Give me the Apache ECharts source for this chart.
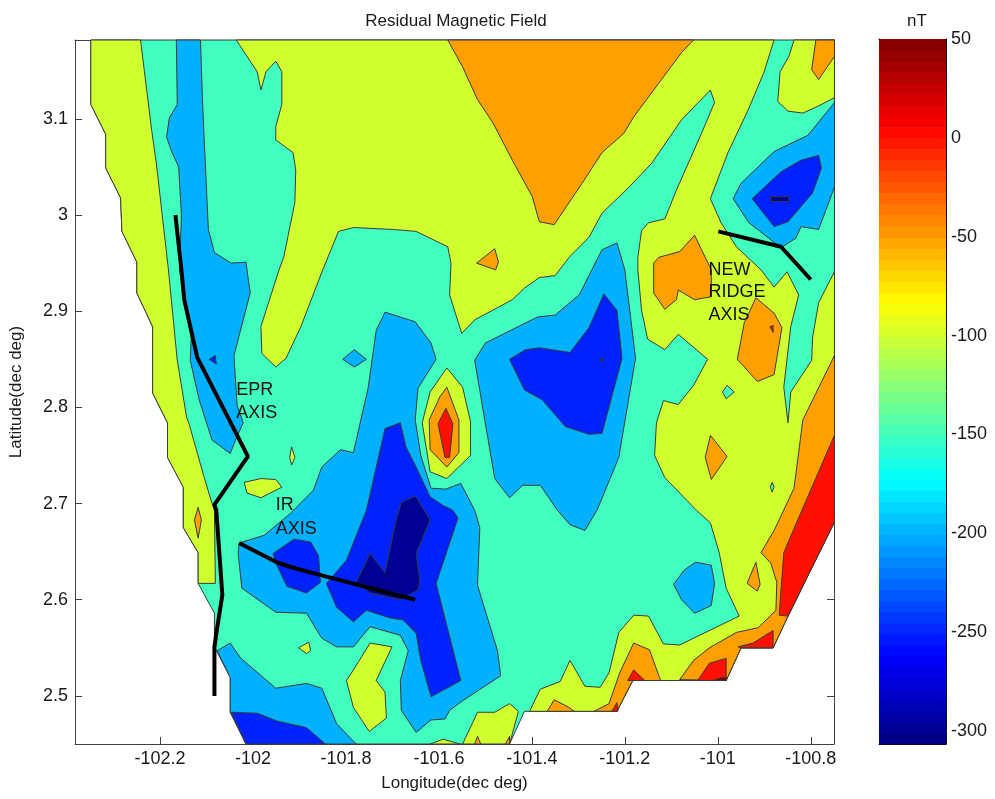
<!DOCTYPE html>
<html><head><meta charset="utf-8"><style>html,body{margin:0;padding:0;background:#fff}#c{width:995px;height:799px}</style>
<script src="https://cdn.jsdelivr.net/npm/echarts@6/dist/echarts.min.js"></script></head><body><div id="c"></div>
<script>
// ---- tick labels ----
const lonTicks = [-102.2,-102,-101.8,-101.6,-101.4,-101.2,-101,-100.8];
const latTicks = [2.5,2.6,2.7,2.8,2.9,3,3.1];
const nTTicks = [-300,-250,-200,-150,-100,-50,0,50];
// ---- contour regions, [lon, lat] ----
const domain = [[-102.349,3.182],[-102.349,3.115],[-102.317,3.084],[-102.317,3.049],[-102.285,3.018],[-102.282,2.983],[-102.250,2.951],[-102.250,2.919],[-102.216,2.884],[-102.216,2.815],[-102.184,2.784],[-102.184,2.748],[-102.150,2.717],[-102.150,2.675],[-102.118,2.649],[-102.118,2.617],[-102.083,2.586],[-102.083,2.551],[-102.049,2.519],[-102.049,2.483],[-102.015,2.450],[-101.448,2.450],[-101.416,2.484],[-101.217,2.484],[-101.183,2.516],[-100.982,2.516],[-100.950,2.550],[-100.881,2.550],[-100.849,2.583],[-100.749,2.681],[-100.749,3.182]];
const yellowLeft = [[-102.349,3.182],[-102.349,3.115],[-102.317,3.084],[-102.317,3.049],[-102.285,3.018],[-102.282,2.983],[-102.250,2.951],[-102.250,2.919],[-102.216,2.884],[-102.216,2.815],[-102.184,2.784],[-102.184,2.748],[-102.150,2.717],[-102.150,2.675],[-102.118,2.649],[-102.118,2.617],[-102.081,2.617],[-102.083,2.693],[-102.088,2.700],[-102.105,2.727],[-102.137,2.782],[-102.143,2.790],[-102.163,2.849],[-102.182,2.943],[-102.208,3.054],[-102.218,3.088],[-102.242,3.182]];
const orangeLeft = [[-102.118,2.696],[-102.126,2.683],[-102.118,2.664],[-102.111,2.683]];
const blueWest = [[-102.165,3.182],[-102.163,3.115],[-102.180,3.101],[-102.186,3.081],[-102.175,3.066],[-102.160,3.050],[-102.154,3.000],[-102.158,2.943],[-102.148,2.912],[-102.133,2.873],[-102.135,2.849],[-102.116,2.808],[-102.088,2.766],[-102.049,2.752],[-102.036,2.768],[-102.021,2.784],[-102.034,2.802],[-102.036,2.815],[-102.041,2.854],[-102.006,2.919],[-102.013,2.943],[-102.015,2.951],[-102.047,2.950],[-102.083,2.961],[-102.096,2.985],[-102.105,3.078],[-102.109,3.123],[-102.113,3.182]];
const deepDotWest = [[-102.094,2.850],[-102.081,2.854],[-102.079,2.845]];
const yellowMain = [[-102.036,3.182],[-101.991,3.149],[-101.983,3.130],[-101.972,3.149],[-101.951,3.160],[-101.938,3.149],[-101.938,3.115],[-101.951,3.092],[-101.951,3.078],[-101.914,3.065],[-101.908,3.047],[-101.910,3.013],[-101.934,2.956],[-101.944,2.943],[-101.983,2.884],[-101.981,2.856],[-101.951,2.842],[-101.929,2.851],[-101.897,2.884],[-101.850,2.943],[-101.816,2.983],[-101.784,2.987],[-101.698,2.985],[-101.649,2.983],[-101.581,2.967],[-101.574,2.950],[-101.577,2.917],[-101.551,2.877],[-101.523,2.891],[-101.442,2.912],[-101.416,2.924],[-101.384,2.935],[-101.350,2.937],[-101.320,2.956],[-101.277,2.977],[-101.249,3.002],[-101.191,3.029],[-101.142,3.054],[-101.078,3.099],[-101.016,3.130],[-101.007,3.117],[-101.035,3.085],[-101.089,3.026],[-101.114,2.996],[-101.149,2.992],[-101.164,2.984],[-101.172,2.956],[-101.172,2.943],[-101.164,2.901],[-101.151,2.871],[-101.114,2.860],[-101.085,2.876],[-101.022,2.850],[-101.052,2.823],[-101.085,2.803],[-101.117,2.807],[-101.132,2.784],[-101.136,2.750],[-101.114,2.727],[-101.074,2.707],[-101.046,2.693],[-101.016,2.680],[-100.997,2.649],[-100.982,2.612],[-100.954,2.583],[-101.082,2.553],[-101.117,2.554],[-101.149,2.583],[-101.181,2.584],[-101.213,2.566],[-101.234,2.524],[-101.253,2.509],[-101.286,2.510],[-101.318,2.537],[-101.339,2.515],[-101.382,2.507],[-101.405,2.484],[-101.217,2.484],[-101.183,2.516],[-100.982,2.516],[-100.950,2.550],[-100.881,2.550],[-100.849,2.583],[-100.749,2.681],[-100.749,2.941],[-100.783,2.909],[-100.796,2.873],[-100.798,2.849],[-100.843,2.816],[-100.849,2.784],[-100.858,2.821],[-100.843,2.884],[-100.826,2.917],[-100.851,2.941],[-100.879,2.925],[-100.907,2.943],[-100.960,2.967],[-100.993,2.992],[-101.016,3.017],[-100.978,3.065],[-100.935,3.109],[-100.901,3.148],[-100.879,3.182]];
const yellowNE = [[-100.836,3.182],[-100.847,3.165],[-100.866,3.149],[-100.871,3.118],[-100.849,3.108],[-100.817,3.106],[-100.785,3.113],[-100.749,3.122],[-100.749,3.182]];
const orangeNE = [[-100.789,3.182],[-100.798,3.151],[-100.783,3.141],[-100.749,3.165],[-100.749,3.182]];
const orangeTop = [[-101.581,3.182],[-101.549,3.154],[-101.517,3.120],[-101.484,3.096],[-101.442,3.057],[-101.399,3.019],[-101.384,2.993],[-101.352,2.990],[-101.292,3.033],[-101.249,3.065],[-101.202,3.085],[-101.181,3.102],[-101.121,3.141],[-101.078,3.169],[-101.052,3.182]];
const orangeSmallTop = [[-101.480,2.965],[-101.519,2.950],[-101.478,2.943],[-101.472,2.951]];
const blueNE = [[-100.749,3.117],[-100.806,3.083],[-100.879,3.066],[-100.950,3.033],[-100.967,3.017],[-100.933,2.992],[-100.864,2.966],[-100.832,2.976],[-100.821,2.988],[-100.783,2.985],[-100.749,3.029]];
const deepNE = [[-100.783,3.062],[-100.777,3.049],[-100.796,3.023],[-100.849,2.993],[-100.879,2.988],[-100.926,3.017],[-100.864,3.045],[-100.821,3.057]];
const navyNE = [[-100.886,3.019],[-100.847,3.019],[-100.847,3.014],[-100.886,3.014]];
const blueCentre = [[-101.217,2.971],[-101.200,2.943],[-101.177,2.851],[-101.213,2.748],[-101.260,2.693],[-101.286,2.672],[-101.318,2.678],[-101.345,2.693],[-101.382,2.719],[-101.420,2.719],[-101.448,2.706],[-101.480,2.726],[-101.523,2.849],[-101.500,2.867],[-101.388,2.894],[-101.350,2.896],[-101.298,2.917],[-101.271,2.943],[-101.249,2.964]];
const deepCentre = [[-101.245,2.918],[-101.217,2.901],[-101.206,2.851],[-101.249,2.773],[-101.277,2.772],[-101.328,2.780],[-101.378,2.808],[-101.416,2.818],[-101.448,2.850],[-101.414,2.860],[-101.384,2.862],[-101.318,2.857],[-101.277,2.883]];
const navyDotCentre = [[-101.253,2.851],[-101.245,2.851],[-101.249,2.847]];
const blueSouth = [[-101.716,2.899],[-101.651,2.889],[-101.617,2.867],[-101.606,2.850],[-101.645,2.820],[-101.651,2.787],[-101.639,2.750],[-101.617,2.716],[-101.585,2.715],[-101.553,2.721],[-101.523,2.693],[-101.512,2.675],[-101.517,2.615],[-101.474,2.547],[-101.467,2.521],[-101.549,2.495],[-101.577,2.485],[-101.587,2.476],[-101.617,2.475],[-101.649,2.462],[-101.681,2.485],[-101.683,2.516],[-101.666,2.547],[-101.683,2.563],[-101.748,2.572],[-101.784,2.551],[-101.820,2.551],[-101.852,2.560],[-101.885,2.586],[-101.951,2.587],[-102.024,2.612],[-102.032,2.648],[-102.030,2.659],[-101.976,2.667],[-101.919,2.690],[-101.870,2.714],[-101.852,2.738],[-101.812,2.756],[-101.784,2.753],[-101.752,2.821],[-101.735,2.880]];
const deepSouth = [[-101.683,2.784],[-101.716,2.778],[-101.756,2.693],[-101.799,2.641],[-101.831,2.623],[-101.842,2.617],[-101.820,2.592],[-101.784,2.577],[-101.756,2.589],[-101.705,2.581],[-101.677,2.579],[-101.649,2.565],[-101.639,2.537],[-101.617,2.499],[-101.553,2.516],[-101.606,2.617],[-101.559,2.685],[-101.570,2.693],[-101.591,2.698],[-101.619,2.707],[-101.649,2.738],[-101.671,2.759]];
const navySouth = [[-101.651,2.708],[-101.681,2.701],[-101.692,2.683],[-101.716,2.628],[-101.748,2.648],[-101.778,2.618],[-101.748,2.607],[-101.681,2.600],[-101.666,2.605],[-101.645,2.610],[-101.641,2.620],[-101.649,2.648],[-101.619,2.683]];
const deepIR = [[-101.912,2.663],[-101.876,2.660],[-101.859,2.646],[-101.855,2.618],[-101.885,2.607],[-101.927,2.614],[-101.949,2.636],[-101.957,2.648]];
const blueDiamond = [[-101.807,2.850],[-101.782,2.860],[-101.756,2.850],[-101.782,2.842]];
const yellowPatch = [[-102.019,2.722],[-101.983,2.726],[-101.951,2.725],[-101.938,2.717],[-101.983,2.706],[-102.013,2.711]];
const yellowSliver = [[-101.917,2.759],[-101.910,2.748],[-101.917,2.740],[-101.921,2.748]];
const yellowSpeck = [[-101.880,2.556],[-101.902,2.550],[-101.885,2.544],[-101.876,2.547]];
const blueSW = [[-102.077,2.547],[-102.049,2.555],[-102.026,2.539],[-101.951,2.508],[-101.885,2.513],[-101.852,2.508],[-101.820,2.471],[-101.778,2.450],[-102.015,2.450],[-102.049,2.483],[-102.049,2.519]];
const deepSW = [[-102.047,2.483],[-101.991,2.482],[-101.949,2.474],[-101.885,2.467],[-101.844,2.450],[-102.015,2.450]];
const yellowSouth1 = [[-101.748,2.555],[-101.701,2.551],[-101.735,2.516],[-101.716,2.504],[-101.713,2.477],[-101.750,2.463],[-101.784,2.488],[-101.799,2.516],[-101.784,2.527]];
const yellowSouth2 = [[-101.517,2.483],[-101.480,2.483],[-101.448,2.492],[-101.429,2.484],[-101.448,2.450],[-101.549,2.450]];
const yellowSouth3 = [[-101.619,2.450],[-101.591,2.455],[-101.555,2.450]];
const orangeSpeck1 = [[-101.523,2.450],[-101.517,2.458],[-101.510,2.450]];
const orangeSpeck2 = [[-101.457,2.450],[-101.448,2.458],[-101.448,2.450]];
const orangeSouth = [[-101.181,2.555],[-101.147,2.548],[-101.123,2.516],[-101.183,2.516],[-101.217,2.484],[-101.266,2.484],[-101.234,2.492],[-101.211,2.524]];
const redSouth1 = [[-101.181,2.527],[-101.157,2.516],[-101.194,2.516]];
const redSouth2 = [[-101.217,2.493],[-101.228,2.484],[-101.215,2.484]];
const orangeSouth2 = [[-101.352,2.496],[-101.367,2.484],[-101.309,2.484],[-101.320,2.488]];
const orangeSE = [[-101.082,2.517],[-101.052,2.537],[-101.018,2.550],[-100.960,2.566],[-100.913,2.571],[-100.875,2.589],[-100.873,2.618],[-100.886,2.638],[-100.907,2.649],[-100.879,2.672],[-100.868,2.683],[-100.836,2.716],[-100.817,2.787],[-100.749,2.854],[-100.749,2.681],[-100.849,2.583],[-100.881,2.550],[-100.950,2.550],[-100.982,2.516]];
const redSE = [[-100.749,2.771],[-100.828,2.683],[-100.858,2.649],[-100.868,2.584],[-100.849,2.583],[-100.749,2.681]];
const redSE2 = [[-100.956,2.551],[-100.924,2.555],[-100.881,2.568],[-100.881,2.550],[-100.950,2.550]];
const redSE3 = [[-101.042,2.517],[-101.018,2.534],[-100.982,2.539],[-100.982,2.516],[-101.042,2.516]];
const darkRedSE = [[-101.010,2.516],[-100.993,2.519],[-100.982,2.519],[-100.982,2.516]];
const orangeEast = [[-100.918,2.639],[-100.909,2.616],[-100.915,2.609],[-100.937,2.617]];
const blueEast = [[-101.048,2.639],[-101.014,2.636],[-101.007,2.617],[-101.014,2.594],[-101.050,2.586],[-101.078,2.600],[-101.095,2.616],[-101.072,2.631]];
const orangeRidge = [[-100.918,2.914],[-100.879,2.898],[-100.862,2.883],[-100.879,2.834],[-100.915,2.827],[-100.958,2.850],[-100.943,2.888]];
const redSpeck = [[-100.888,2.884],[-100.881,2.885],[-100.881,2.878]];
const orangeRidgeW = [[-101.050,2.979],[-101.035,2.964],[-101.014,2.943],[-101.014,2.915],[-101.050,2.912],[-101.085,2.922],[-101.089,2.912],[-101.114,2.902],[-101.138,2.919],[-101.138,2.950],[-101.127,2.956],[-101.082,2.962]];
const mintSpeck = [[-100.980,2.823],[-100.965,2.816],[-100.982,2.809],[-100.990,2.816]];
const orangeDiamond = [[-101.016,2.771],[-100.980,2.749],[-101.014,2.725],[-101.027,2.748]];
const blueSpeck = [[-100.883,2.722],[-100.879,2.717],[-100.883,2.712],[-100.887,2.717]];
const orangeMound = [[-101.583,2.841],[-101.549,2.821],[-101.532,2.785],[-101.532,2.750],[-101.583,2.726],[-101.619,2.733],[-101.636,2.784],[-101.619,2.816]];
const orangeMound2 = [[-101.583,2.821],[-101.557,2.787],[-101.557,2.753],[-101.583,2.738],[-101.619,2.756],[-101.621,2.787],[-101.598,2.811]];
const redMound = [[-101.585,2.799],[-101.570,2.783],[-101.577,2.748],[-101.587,2.748],[-101.602,2.783]];
// ---- ridge axes, [lon, lat] ----
const eprAxis = [[-102.167,3.000],[-102.154,2.943],[-102.148,2.912],[-102.120,2.852],[-102.011,2.749],[-102.083,2.699],[-102.079,2.693],[-102.066,2.605],[-102.077,2.571],[-102.083,2.551],[-102.083,2.500]];
const irAxis = [[-102.030,2.659],[-101.949,2.639],[-101.912,2.633],[-101.842,2.624],[-101.651,2.600]];
const newRidgeAxis = [[-100.999,2.983],[-100.864,2.967],[-100.800,2.933]];
// ---- annotation text ----
const notes = [["EPR",-102.036,2.818],["AXIS",-102.036,2.794],["IR",-101.951,2.698],["AXIS",-101.951,2.674],["NEW",-101.020,2.943],["RIDGE",-101.020,2.920],["AXIS",-101.020,2.896]];

// lower contour level of every region, painted in order
const regions = [
 [-150,domain],[-100,yellowLeft],[-50,orangeLeft],[-200,blueWest],[-250,deepDotWest],
 [-100,yellowMain],[-100,yellowNE],[-50,orangeNE],[-50,orangeTop],[-50,orangeSmallTop],
 [-200,blueNE],[-250,deepNE],[-300,navyNE],[-200,blueCentre],[-250,deepCentre],[-300,navyDotCentre],
 [-200,blueSouth],[-250,deepSouth],[-300,navySouth],[-250,deepIR],[-200,blueDiamond],
 [-100,yellowPatch],[-100,yellowSliver],[-100,yellowSpeck],[-200,blueSW],[-250,deepSW],
 [-100,yellowSouth1],[-100,yellowSouth2],[-100,yellowSouth3],[-50,orangeSpeck1],[-50,orangeSpeck2],
 [-50,orangeSouth],[0,redSouth1],[0,redSouth2],[-50,orangeSouth2],[-50,orangeSE],[0,redSE],[0,redSE2],[0,redSE3],[50,darkRedSE],
 [-50,orangeEast],[-200,blueEast],[-50,orangeRidge],[0,redSpeck],[-50,orangeRidgeW],[-150,mintSpeck],[-50,orangeDiamond],[-150,blueSpeck],
 [-100,orangeMound],[-50,orangeMound2],[0,redMound]
];

const cMin = -306.6, cMax = 50, bandCount = 64;
function jet(v){
  const t = Math.min(1,Math.max(0,(v-cMin)/(cMax-cMin)));
  const f = (a)=>Math.round(255*Math.max(0,Math.min(1,Math.min(a+1.5,1.5-a))));
  return `rgb(${f(4*t-3)},${f(4*t-2)},${f(4*t-1)})`;
}
const bands = Array.from({length:bandCount},(_,i)=>i);
const bandStep = (cMax-cMin)/bandCount;
const ink = '#1a1a1a', axisGray = '#404040', font = '"Liberation Sans",Arial,sans-serif';

const baseTick = {show:true,inside:true,length:7,lineStyle:{color:axisGray,width:1}};
const baseLine = {show:true,onZero:false,lineStyle:{color:axisGray,width:1}};
const lbl = {color:ink,fontSize:18,fontFamily:font,formatter:v=>String(v)};

const chart = echarts.init(document.getElementById('c'),null,{renderer:'canvas'});
const lonExt = {min:-102.383,max:-100.75}, latExt = {min:2.45,max:3.182};
chart.setOption({
  animation:false,backgroundColor:'#fff',
  title:[
   {text:'Residual Magnetic Field',left:451,top:8,textAlign:'center',textStyle:{fontWeight:'normal',fontSize:17,color:ink,fontFamily:font}},
   {text:'nT',left:912,top:8,textAlign:'center',textStyle:{fontWeight:'normal',fontSize:17,color:ink,fontFamily:font}}
  ],
  grid:[{left:70,top:40,width:764,height:704},{left:879,top:39,width:67,height:705}],
  xAxis:[
   {type:'value',gridIndex:0,...lonExt,position:'bottom',splitLine:{show:false},axisLine:baseLine,
    axisTick:{...baseTick,customValues:lonTicks},axisLabel:{...lbl,margin:6,customValues:lonTicks},
    name:'Longitude(dec deg)',nameLocation:'middle',nameGap:31,nameTextStyle:{color:ink,fontSize:17,fontFamily:font}},
   {type:'value',gridIndex:0,...lonExt,position:'top',splitLine:{show:false},axisLine:baseLine,
    axisTick:{...baseTick,customValues:lonTicks},axisLabel:{show:false}},
   {type:'value',gridIndex:1,min:0,max:1,position:'bottom',splitLine:{show:false},axisLine:{...baseLine,lineStyle:{color:'#111'}},axisTick:{show:false},axisLabel:{show:false}},
   {type:'value',gridIndex:1,min:0,max:1,position:'top',splitLine:{show:false},axisLine:{...baseLine,lineStyle:{color:'#111'}},axisTick:{show:false},axisLabel:{show:false}}
  ],
  yAxis:[
   {type:'value',gridIndex:0,...latExt,position:'left',splitLine:{show:false},axisLine:baseLine,
    axisTick:{...baseTick,customValues:latTicks},axisLabel:{...lbl,margin:7,customValues:latTicks},
    name:'Latitude(dec deg)',nameLocation:'middle',nameGap:50,nameTextStyle:{color:ink,fontSize:17,fontFamily:font}},
   {type:'value',gridIndex:0,...latExt,position:'right',splitLine:{show:false},axisLine:baseLine,
    axisTick:{...baseTick,customValues:latTicks},axisLabel:{show:false}},
   {type:'value',gridIndex:1,min:cMin,max:cMax,position:'right',splitLine:{show:false},axisLine:{...baseLine,lineStyle:{color:'#111'}},
    axisTick:{...baseTick,customValues:nTTicks},axisLabel:{...lbl,margin:5,customValues:nTTicks}},
   {type:'value',gridIndex:1,min:cMin,max:cMax,position:'left',splitLine:{show:false},axisLine:{...baseLine,lineStyle:{color:'#111'}},
    axisTick:{...baseTick,customValues:nTTicks},axisLabel:{show:false}}
  ],
  series:[
   {type:'custom',xAxisIndex:0,yAxisIndex:0,z:2,silent:true,
    data:regions.map(r=>r[1][0]),
    renderItem(p,api){
      const r = regions[p.dataIndex];
      return {type:'polygon',shape:{points:r[1].map(q=>api.coord(q))},
        style:{fill:jet(r[0]),stroke:'#3a3a3a',lineWidth:1}};
    }},
   ...[eprAxis,irAxis,newRidgeAxis].map(d=>({type:'line',xAxisIndex:0,yAxisIndex:0,z:3,data:d,symbol:'none',silent:true,
      lineStyle:{color:'#000',width:4,cap:'butt',join:'bevel'}})),
   {type:'custom',xAxisIndex:0,yAxisIndex:0,z:4,silent:true,
    data:notes.map(n=>[n[1],n[2]]),
    renderItem(p,api){
      const c = api.coord([api.value(0),api.value(1)]);
      return {type:'text',x:c[0],y:c[1],style:{text:notes[p.dataIndex][0],fill:'#111',font:'18px '+font,textAlign:'left',textVerticalAlign:'middle'}};
    }},
   {type:'custom',xAxisIndex:2,yAxisIndex:2,z:2,silent:true,
    data:bands.map(i=>[0,cMin+i*bandStep]),
    renderItem(p,api){
      const lo = api.value(1), a = api.coord([0,lo]), b = api.coord([1,lo+bandStep]);
      return {type:'rect',shape:{x:a[0],y:b[1],width:b[0]-a[0],height:a[1]-b[1]+0.6},
        style:{fill:jet(lo+bandStep/2)}};
    }}
  ]
});
</script></body></html>
